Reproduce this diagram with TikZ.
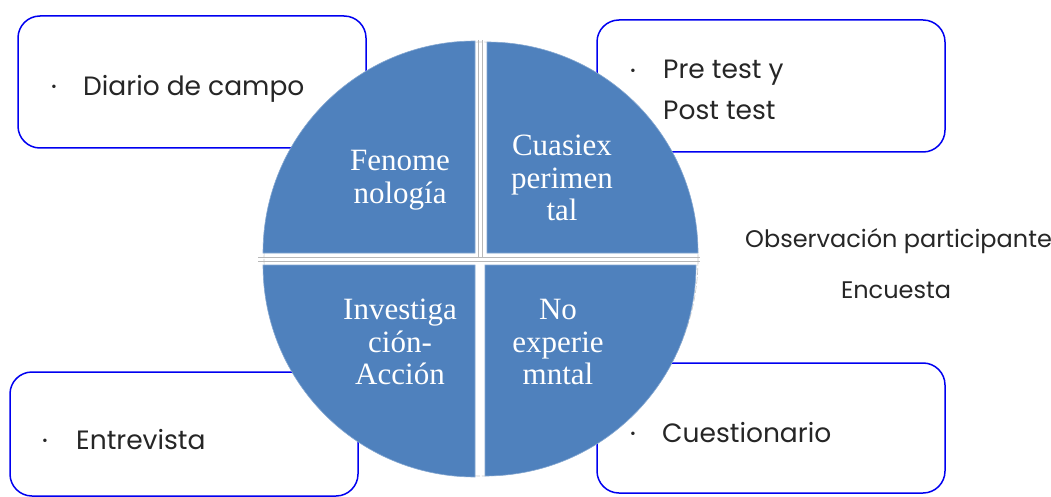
\documentclass[tikz,border=0pt]{standalone}
\usepackage{fontspec}
\setmainfont{Liberation Serif}
\newfontfamily\cajafont{Poppins}
\definecolor{azulcuarto}{HTML}{4F81BD}
\definecolor{azulmarco}{HTML}{0000F0}
\definecolor{gristexto}{HTML}{262626}

\begin{document}
\begin{tikzpicture}[x=1pt,y=-1pt,
    caja/.style={draw=azulmarco, line width=1.5pt, rounded corners=22pt, fill=white},
    cuarto/.style={fill=azulcuarto, draw=azulcuarto!70!white, line width=0.6pt},
    cruz/.style={draw=black!28, line width=0.8pt},
    etiqueta/.style={text=white, align=center, inner sep=0pt, font=\fontsize{31}{32.5}\selectfont},
    item/.style={text=gristexto, inner sep=0pt, font=\cajafont\fontsize{26.5}{42}\selectfont},
    suelto/.style={text=gristexto, inner sep=0pt, font=\cajafont\fontsize{24}{30}\selectfont},
    vineta/.style={text=gristexto, inner sep=0pt, font=\cajafont\fontsize{14}{14}\selectfont}]

        \useasboundingbox (0,0) rectangle (1051,497);

        % cajas
        \filldraw[caja] (18,16) rectangle (366,148);
        \filldraw[caja] (597,20) rectangle (945,152);
        \filldraw[caja] (10,372) rectangle (358,496);
        \filldraw[caja] (597,363) rectangle (945,493);

        % circulo
        \filldraw[fill=white, draw=black!22, line width=0.6pt, dash pattern=on 7pt off 2pt] (481,259) circle[radius=217];

        \filldraw[cuarto] (475,253) -- (263,253) arc[start angle=180, end angle=270, radius=212] -- cycle;
        \filldraw[cuarto] (487,253) -- (487,42) arc[start angle=270, end angle=360, radius=211] -- cycle;
        \filldraw[cuarto] (475,265) -- (475,477) arc[start angle=90, end angle=180, radius=212] -- cycle;
        \filldraw[cuarto] (485,265) -- (696,265) arc[start angle=0, end angle=90, radius=211] -- cycle;

        \draw[cruz] (478,40) -- (478,257);
        \draw[cruz] (482,40) -- (482,257);
        \draw[cruz] (258,257) -- (700,257);
        \draw[cruz] (258,261) -- (700,261);

        \node[etiqueta] (fenomenologia) at (400,180) {Fenome\\nología};
        \node[etiqueta] (cuasiexperimental) at (562,178) {Cuasiex\\perimen\\tal};
        \node[etiqueta] (investigacion) at (400,342) {Investiga\\ción-\\Acción};
        \node[etiqueta] (noexperimental) at (558,342) {No\\experie\\mntal};

        \node[vineta] (v1) at (54,88) {•};
        \node[item, anchor=base west] (diario) at (83,96) {Diario de campo};

        \node[vineta] (v2) at (633,72) {•};
        \node[item, anchor=base west] (pretest) at (663,79) {Pre test y};
        \node[item, anchor=base west] (posttest) at (663,120) {Post test};

        \node[suelto, anchor=base west] (observacion) at (745,247) {Observación participante};
        \node[suelto, anchor=base] (encuesta) at (896,298) {Encuesta};

        \node[vineta] (v3) at (45,442) {•};
        \node[item, anchor=base west] (entrevista) at (76,449) {Entrevista};

        \node[vineta] (v4) at (633,435) {•};
        \node[item, anchor=base west] (cuestionario) at (662,442) {Cuestionario};

    \end{tikzpicture}
\end{document}
